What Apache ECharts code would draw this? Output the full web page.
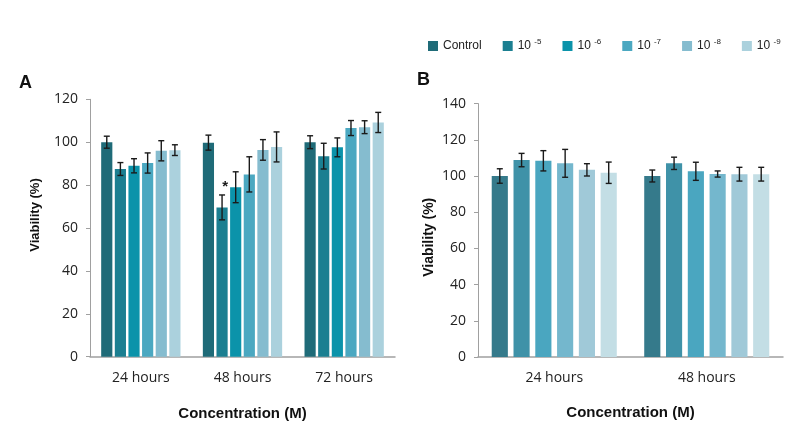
<!DOCTYPE html>
<html>
<head>
<meta charset="utf-8">
<script src="https://cdn.jsdelivr.net/npm/echarts@6/dist/echarts.min.js"></script>
<style>html,body{margin:0;padding:0;background:#fff}#c{width:799px;height:436px}</style>
</head>
<body>
<div id="c"></div>
<script>
// ---------- data ----------
var seriesNames = ['Control', '10-5', '10-6', '10-7', '10-8', '10-9'];
var legendSup = ['', '-5', '-6', '-7', '-8', '-9'];

var catsA = ['24 hours', '48 hours', '72 hours'];
var valA_control = [100, 99.8, 100];
var valA_e5 = [87.5, 69.6, 93.5];
var valA_e6 = [89, 79, 97.6];
var valA_e7 = [90.3, 85, 106.6];
var valA_e8 = [96, 96.4, 107];
var valA_e9 = [96.3, 97.8, 109.2];
var errA_control = [2.8, 3.5, 3];
var errA_e5 = [3, 5.8, 6];
var errA_e6 = [3.3, 7.2, 4.4];
var errA_e7 = [4.7, 8.2, 3.5];
var errA_e8 = [4.7, 4.8, 3];
var errA_e9 = [2.5, 7, 4.7];

var catsB = ['24 hours', '48 hours'];
var valB_control = [100, 100];
var valB_e5 = [108.8, 107];
var valB_e6 = [108.4, 102.6];
var valB_e7 = [107, 101.1];
var valB_e8 = [103.4, 101];
var valB_e9 = [101.8, 101];
var errB_control = [4, 3.3];
var errB_e5 = [3.7, 3.4];
var errB_e6 = [5.6, 5];
var errB_e7 = [7.7, 1.7];
var errB_e8 = [3.4, 3.8];
var errB_e9 = [5.9, 3.8];

var yTicksA = {min: 0, max: 120, interval: 20};
var yTicksB = {min: 0, max: 140, interval: 20};
var starMark = {series: 1, index: 1, text: '*'};  // significance in panel A

// ---------- styles ----------
var colorsA = ['#1f6b78', '#1b7f91', '#0b93aa', '#4ba8c1', '#85bccf', '#abd1dd'];
var colorsB = ['#357a8b', '#3f92a8', '#4aa6c0', '#74b7cd', '#a0c9d8', '#c3dee5'];
var gapA = {cat: 0.22, bar: 0.22};
var gapB = {cat: 0.18, bar: 0.35};
var labelFont = '"Open Sans", sans-serif';
var titleFont = '"Liberation Sans", Arial, sans-serif';

var valsA = [valA_control, valA_e5, valA_e6, valA_e7, valA_e8, valA_e9];
var errsA = [errA_control, errA_e5, errA_e6, errA_e7, errA_e8, errA_e9];
var valsB = [valB_control, valB_e5, valB_e6, valB_e7, valB_e8, valB_e9];
var errsB = [errB_control, errB_e5, errB_e6, errB_e7, errB_e8, errB_e9];

function errRenderer(idx, n, gap) {
  return function (params, api) {
    var ci = api.value(0);
    var lo = api.coord([ci, api.value(1)]);
    var hi = api.coord([ci, api.value(2)]);
    var band = api.size([1, 0])[0];
    var usable = band * (1 - gap.cat);
    var bw = usable / (n + (n - 1) * gap.bar);
    var x = lo[0] - usable / 2 + idx * bw * (1 + gap.bar) + bw / 2;
    var cap = 3;
    var st = {stroke: '#1a1a1a', lineWidth: 1.4};
    return {
      type: 'group',
      children: [
        {type: 'line', shape: {x1: x, y1: lo[1], x2: x, y2: hi[1]}, style: st},
        {type: 'line', shape: {x1: x - cap, y1: lo[1], x2: x + cap, y2: lo[1]}, style: st},
        {type: 'line', shape: {x1: x - cap, y1: hi[1], x2: x + cap, y2: hi[1]}, style: st}
      ]
    };
  };
}

var series = [];
function addPanel(gi, vals, errs, colors, gap) {
  var n = vals.length;
  for (var i = 0; i < n; i++) {
    var data = vals[i].map(function (v, k) {
      if (gi === 0 && i === starMark.series && k === starMark.index) {
        return {value: v, label: {show: true, formatter: starMark.text, position: 'top',
          offset: [3, -8], fontSize: 15, fontWeight: 'bold', color: '#1a1a1a', fontFamily: titleFont}};
      }
      return v;
    });
    series.push({
      type: 'bar', name: seriesNames[i], xAxisIndex: gi, yAxisIndex: gi,
      data: data, itemStyle: {color: colors[i]},
      barGap: (gap.bar * 100) + '%', barCategoryGap: (gap.cat * 100) + '%',
      emphasis: {disabled: true}
    });
  }
  for (var j = 0; j < n; j++) {
    var ed = vals[j].map(function (v, k) { return [k, v - errs[j][k], v + errs[j][k]]; });
    series.push({
      type: 'custom', name: 'err' + gi + '_' + j, xAxisIndex: gi, yAxisIndex: gi,
      data: ed, renderItem: errRenderer(j, n, gap), z: 5, silent: true,
      encode: {x: 0, y: [1, 2]}
    });
  }
}
addPanel(0, valsA, errsA, colorsA, gapA);
addPanel(1, valsB, errsB, colorsB, gapB);

function xAxis(gi, cats, nameGap) {
  return {
    type: 'category', gridIndex: gi, data: cats,
    axisLine: {lineStyle: {color: '#a0a0a0', width: 1.5}},
    axisTick: {show: false},
    axisLabel: {color: '#222', fontSize: 14, fontFamily: labelFont, margin: 14},
    name: 'Concentration (M)', nameLocation: 'middle', nameGap: nameGap,
    nameTextStyle: {color: '#111', fontSize: 15, fontWeight: 'bold', fontFamily: titleFont}
  };
}
function yAxis(gi, t, gapName, fs, pad) {
  return {
    type: 'value', gridIndex: gi, min: t.min, max: t.max, interval: t.interval,
    axisLine: {show: true, lineStyle: {color: '#a0a0a0', width: 1}},
    axisTick: {show: true, length: 4, lineStyle: {color: '#a0a0a0'}},
    splitLine: {show: false},
    axisLabel: {color: '#222', fontSize: 14, fontFamily: labelFont, margin: 12},
    name: 'Viability (%)', nameLocation: 'middle', nameGap: gapName,
    nameTextStyle: {color: '#111', fontSize: fs, fontWeight: 'bold', fontFamily: titleFont, padding: pad}
  };
}

var option = {
  animation: false,
  backgroundColor: '#fff',
  grid: [
    {left: 90, right: 404, top: 99.3, bottom: 79.3},
    {left: 478, right: 16, top: 103.6, bottom: 79}
  ],
  legend: {
    data: seriesNames, left: 423, top: 33, itemWidth: 10, itemHeight: 10, itemGap: 21,
    icon: 'rect', selectedMode: false,
    textStyle: {color: '#222', fontFamily: titleFont, fontSize: 12,
      rich: {a: {fontSize: 12, fontFamily: titleFont, color: '#222'},
             s: {fontSize: 8, fontFamily: titleFont, color: '#222', verticalAlign: 'top', padding: [0, 0, 8, 0]}}},
    formatter: function (name) {
      var i = seriesNames.indexOf(name);
      if (i === 0) return '{a|Control}';
      return '{a|10 }{s|' + legendSup[i] + '}';
    }
  },
  title: [
    {text: 'A', left: 14, top: 69, textStyle: {fontSize: 18, fontWeight: 'bold', color: '#111', fontFamily: titleFont}},
    {text: 'B', left: 412, top: 66, textStyle: {fontSize: 18, fontWeight: 'bold', color: '#111', fontFamily: titleFont}}
  ],
  xAxis: [xAxis(0, catsA, 50), xAxis(1, catsB, 48)],
  yAxis: [yAxis(0, yTicksA, 48, 13, [0, 0, 0, 26]), yAxis(1, yTicksB, 42, 14, [0, 14, 0, 0])],
  series: series
};
var chart = echarts.init(document.getElementById('c'), null, {renderer: 'canvas'});
chart.setOption(option);
</script>
</body>
</html>
